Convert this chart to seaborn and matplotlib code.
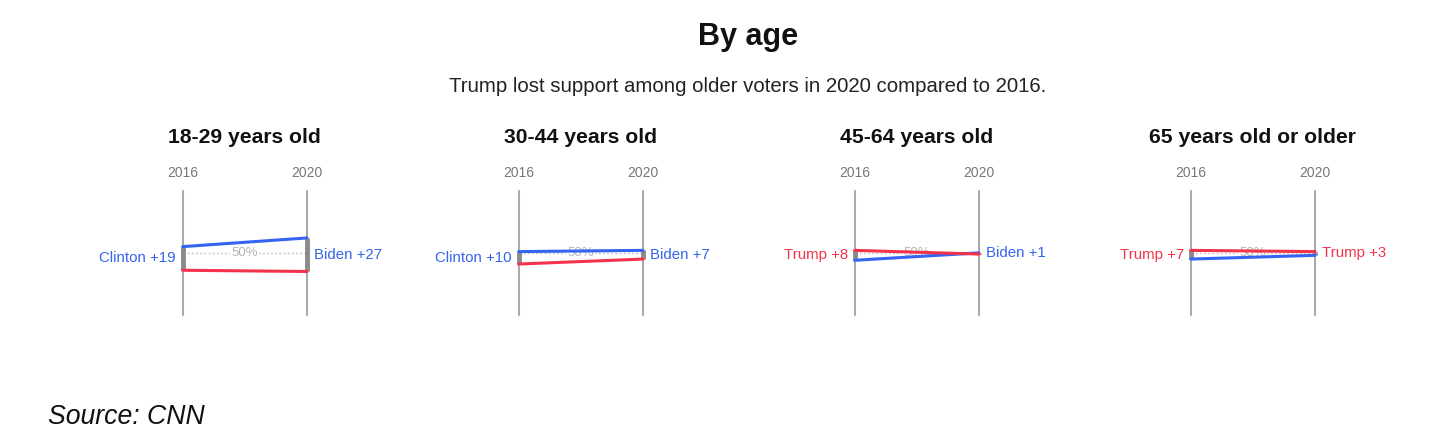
import matplotlib
matplotlib.use("Agg")
import matplotlib.pyplot as plt
import seaborn as sns
import pandas as pd

# ---- data ----
groups = ["18-29 years old", "30-44 years old", "45-64 years old", "65 years old or older"]
years = ["2016", "2020"]
dem_2016 = [55, 51, 44, 45]
rep_2016 = [36, 41, 52, 52]
dem_2020 = [62, 52, 50, 48]
rep_2020 = [35, 45, 49, 51]
labels_2016 = ["Clinton +19", "Clinton +10", "Trump +8", "Trump +7"]
labels_2020 = ["Biden +27", "Biden +7", "Biden +1", "Trump +3"]
winner_2016 = ["Dem", "Dem", "Rep", "Rep"]
winner_2020 = ["Dem", "Dem", "Dem", "Rep"]

BLUE = "#3563f2"
RED = "#f2334a"
palette = {"Dem": BLUE, "Rep": RED}

sns.set_theme(style="white")
plt.rcParams["font.family"] = ["Liberation Sans", "DejaVu Sans"]

W, H = 1444, 440
fig = plt.figure(figsize=(W / 100, H / 100), dpi=100)
fig.patch.set_facecolor("white")

fig.text(748 / W, 1 - 37 / H, "By age", ha="center", va="center",
         fontsize=22, fontweight="bold", color="#111111")
fig.text(748 / W, 1 - 86 / H, "Trump lost support among older voters in 2020 compared to 2016.",
         ha="center", va="center", fontsize=14.7, color="#222222")
fig.text(48 / W, 1 - 417 / H, "Source: CNN", ha="left", va="center",
         fontsize=19.2, fontstyle="italic", color="#111111")

x_first = 182.7
step = 336.0
span = 124.3
y_bottom = 315.0
y_height = 124.3

for i, g in enumerate(groups):
    x0 = x_first + step * i
    ax = fig.add_axes([x0 / W, (H - y_bottom) / H, span / W, y_height / H])
    ax.set_xlim(0, 1)
    ax.set_ylim(0, 100)
    ax.axis("off")

    df = pd.DataFrame({
        "x": [0, 1, 0, 1],
        "share": [dem_2016[i], dem_2020[i], rep_2016[i], rep_2020[i]],
        "party": ["Dem", "Dem", "Rep", "Rep"],
    })

    # axis verticals
    for xv in (0, 1):
        ax.plot([xv, xv], [0, 100], color="#aaaaaa", lw=1.5, zorder=1, clip_on=False)

    # 50% reference
    ax.plot([0, 1], [50, 50], color="#c8c8c8", lw=1.0, ls=(0, (1.5, 1.5)),
            zorder=1.5, clip_on=False)
    ax.text(0.5, 50, "50%", ha="center", va="center", fontsize=9.5, color="#b5b5b5",
            zorder=2, bbox=dict(boxstyle="square,pad=0.1", fc="white", ec="none"))

    # margin bars
    for xv, d, r in ((0, dem_2016[i], rep_2016[i]), (1, dem_2020[i], rep_2020[i])):
        ax.plot([xv, xv], [min(d, r), max(d, r)], color="#8a8a8a", lw=3.5,
                zorder=2.5, clip_on=False, solid_capstyle="butt")

    sns.lineplot(data=df, x="x", y="share", hue="party", palette=palette,
                 ax=ax, legend=False, lw=2.2, zorder=3, clip_on=False)
    ax.set_xlabel("")
    ax.set_ylabel("")
    ax.axis("off")

    # year labels
    for xv, yr in zip((0, 1), years):
        ax.annotate(yr, xy=(xv, 100), xytext=(0, 12.7), textcoords="offset points",
                    ha="center", va="center", fontsize=10, color="#777777",
                    annotation_clip=False)

    # group title
    ax.annotate(g, xy=(0.5, 100), xytext=(0, 38.5), textcoords="offset points",
                ha="center", va="center", fontsize=15.2, fontweight="bold",
                color="#111111", annotation_clip=False)

    # margin labels
    mid16 = (dem_2016[i] + rep_2016[i]) / 2
    mid20 = (dem_2020[i] + rep_2020[i]) / 2
    ax.annotate(labels_2016[i], xy=(0, mid16), xytext=(-5, 0), textcoords="offset points",
                ha="right", va="center", fontsize=10.8,
                color=palette[winner_2016[i]], annotation_clip=False)
    ax.annotate(labels_2020[i], xy=(1, mid20), xytext=(5, 0), textcoords="offset points",
                ha="left", va="center", fontsize=10.8,
                color=palette[winner_2020[i]], annotation_clip=False)

fig.savefig("out.png", dpi=100, facecolor="white")
